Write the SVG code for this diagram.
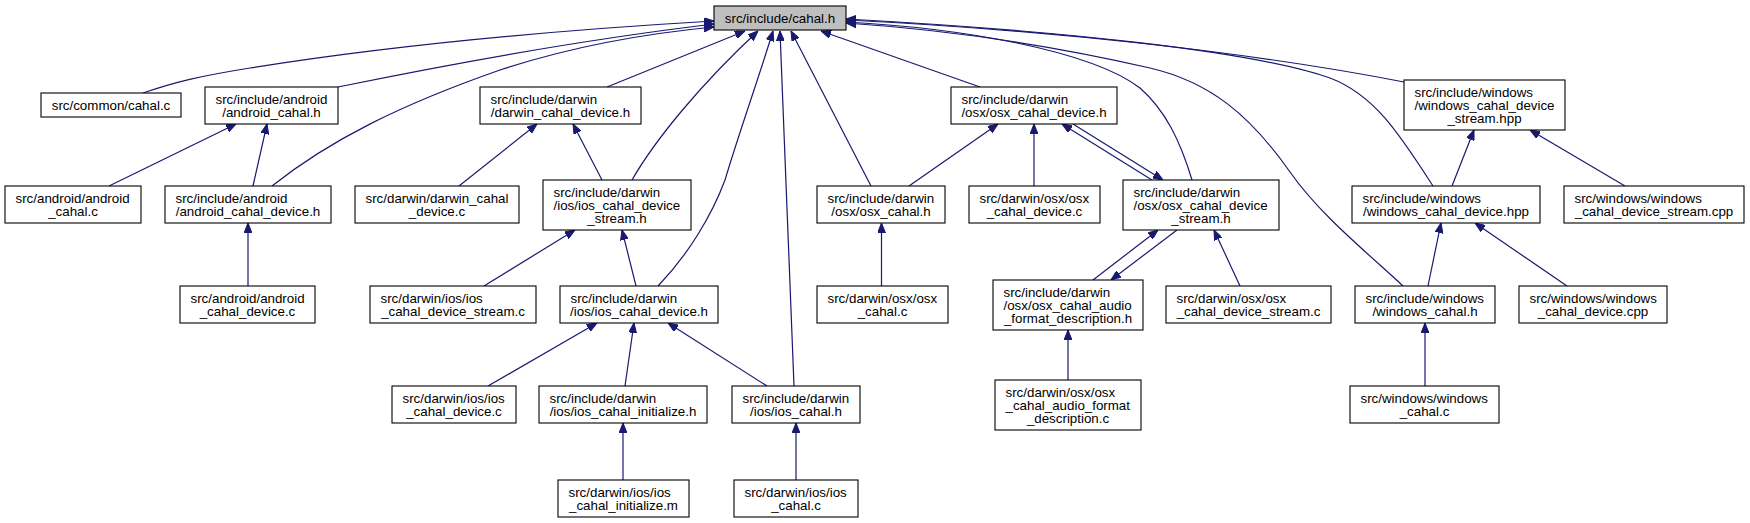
<svg xmlns="http://www.w3.org/2000/svg" width="1750" height="523" viewBox="0 0 1750 523">
<style>
.n rect{fill:#ffffff;stroke:#000000;stroke-width:1.1}
.root rect{fill:#bfbfbf}
text{font-family:"Liberation Sans",Arial,Helvetica,sans-serif;font-size:13.33px;fill:#000000}
.c{text-anchor:middle}
.e path{fill:none;stroke:#191970;stroke-width:1.2;marker-end:url(#arr)}
</style>
<defs>
<marker id="arr" viewBox="0 0 10 8" refX="10" refY="4" markerWidth="10" markerHeight="8" markerUnits="userSpaceOnUse" orient="auto">
<path d="M0,0 L10,4 L0,8 z" fill="#191970" stroke="#191970" stroke-width="1"/>
</marker>
</defs>
<rect width="1750" height="523" fill="#ffffff"/>
<g id="edges" class="e">
<path d="M143,93 C175,82 200,76 250,68 C400,44 560,30 714,21"/>
<path d="M338,87 C450,64 580,40 714,24"/>
<path d="M272,186 C330,140 400,105 500,70 C570,47 640,34 714,27"/>
<path d="M607,87 L745,31"/>
<path d="M632,180 C655,140 700,85 758,31"/>
<path d="M658,286 C688,255 712,215 725,180 C740,130 758,80 773,31"/>
<path d="M794,386 L780,31"/>
<path d="M871,186 L791,31"/>
<path d="M980,87 L821,31"/>
<path d="M1192,180 C1180,140 1165,110 1140,88 C1090,50 960,28 846,22"/>
<path d="M1404,82 C1250,52 1050,30 846,20"/>
<path d="M1433,186 C1400,135 1375,95 1330,78 C1250,50 1050,30 846,19"/>
<path d="M1403,286 C1370,255 1320,215 1290,172 C1250,115 1210,82 1150,68 C1050,45 950,30 846,23"/>
<path d="M109,186 L236,124"/>
<path d="M253,186 L267,124"/>
<path d="M248,286 L248,223"/>
<path d="M459,186 L537,124"/>
<path d="M602,180 L573,124"/>
<path d="M484,286 L575,230"/>
<path d="M636,286 L622,230"/>
<path d="M488,386 L597,323"/>
<path d="M625,386 L634,323"/>
<path d="M767,386 L668,323"/>
<path d="M623,480 L623,423"/>
<path d="M796,480 L796,423"/>
<path d="M909,186 L998,124"/>
<path d="M1034,186 L1034,124"/>
<path d="M1152,180 L1062,124"/>
<path d="M1073,124 L1163,180"/>
<path d="M881.5,286 L881.5,223"/>
<path d="M1093,280 L1158,230"/>
<path d="M1177,230 L1111,280"/>
<path d="M1240,286 L1214,230"/>
<path d="M1068,380 L1068,330"/>
<path d="M1452,186 L1474,130"/>
<path d="M1625,186 L1530,130"/>
<path d="M1428,286 L1441,223"/>
<path d="M1567,286 L1475,223"/>
<path d="M1425,386 L1425,323"/>
</g>
<g id="n1" class="n root"><rect x="714" y="6" width="132" height="24"/><text class="c" x="780" y="22.6">src/include/cahal.h</text></g>
<g id="n2" class="n"><rect x="41" y="93" width="140" height="24"/><text class="c" x="111" y="109.6">src/common/cahal.c</text></g>
<g id="n3" class="n"><rect x="205" y="87" width="133" height="37"/><text x="215.5" y="103.6">src/include/android</text><text class="c" x="271.5" y="116.6">/android_cahal.h</text></g>
<g id="n4" class="n"><rect x="480" y="87" width="161" height="37"/><text x="490.5" y="103.6">src/include/darwin</text><text class="c" x="560.5" y="116.6">/darwin_cahal_device.h</text></g>
<g id="n5" class="n"><rect x="951" y="87" width="166" height="37"/><text x="961.5" y="103.6">src/include/darwin</text><text class="c" x="1034" y="116.6">/osx/osx_cahal_device.h</text></g>
<g id="n6" class="n"><rect x="1404" y="80" width="161" height="50"/><text x="1414.5" y="96.6">src/include/windows</text><text x="1414.5" y="109.6">/windows_cahal_device</text><text class="c" x="1484.5" y="122.6">_stream.hpp</text></g>
<g id="n7" class="n"><rect x="5" y="186" width="136" height="37"/><text x="15.5" y="202.6">src/android/android</text><text class="c" x="73" y="215.6">_cahal.c</text></g>
<g id="n8" class="n"><rect x="165" y="186" width="166" height="37"/><text x="175.5" y="202.6">src/include/android</text><text class="c" x="248" y="215.6">/android_cahal_device.h</text></g>
<g id="n9" class="n"><rect x="355" y="186" width="164" height="37"/><text x="365.5" y="202.6">src/darwin/darwin_cahal</text><text class="c" x="437" y="215.6">_device.c</text></g>
<g id="n10" class="n"><rect x="543" y="180" width="148" height="50"/><text x="553.5" y="196.6">src/include/darwin</text><text x="553.5" y="209.6">/ios/ios_cahal_device</text><text class="c" x="617" y="222.6">_stream.h</text></g>
<g id="n11" class="n"><rect x="817" y="186" width="128" height="37"/><text x="827.5" y="202.6">src/include/darwin</text><text class="c" x="881" y="215.6">/osx/osx_cahal.h</text></g>
<g id="n12" class="n"><rect x="969" y="186" width="131" height="37"/><text x="979.5" y="202.6">src/darwin/osx/osx</text><text class="c" x="1034.5" y="215.6">_cahal_device.c</text></g>
<g id="n13" class="n"><rect x="1123" y="180" width="156" height="50"/><text x="1133.5" y="196.6">src/include/darwin</text><text x="1133.5" y="209.6">/osx/osx_cahal_device</text><text class="c" x="1201" y="222.6">_stream.h</text></g>
<g id="n14" class="n"><rect x="1352" y="186" width="188" height="37"/><text x="1362.5" y="202.6">src/include/windows</text><text class="c" x="1446" y="215.6">/windows_cahal_device.hpp</text></g>
<g id="n15" class="n"><rect x="1564" y="186" width="180" height="37"/><text x="1574.5" y="202.6">src/windows/windows</text><text class="c" x="1654" y="215.6">_cahal_device_stream.cpp</text></g>
<g id="n16" class="n"><rect x="180" y="286" width="135" height="37"/><text x="190.5" y="302.6">src/android/android</text><text class="c" x="247.5" y="315.6">_cahal_device.c</text></g>
<g id="n17" class="n"><rect x="370" y="286" width="166" height="37"/><text x="380.5" y="302.6">src/darwin/ios/ios</text><text class="c" x="453" y="315.6">_cahal_device_stream.c</text></g>
<g id="n18" class="n"><rect x="560" y="286" width="158" height="37"/><text x="570.5" y="302.6">src/include/darwin</text><text class="c" x="639" y="315.6">/ios/ios_cahal_device.h</text></g>
<g id="n19" class="n"><rect x="817" y="286" width="131" height="37"/><text x="827.5" y="302.6">src/darwin/osx/osx</text><text class="c" x="882.5" y="315.6">_cahal.c</text></g>
<g id="n20" class="n"><rect x="993" y="280" width="150" height="50"/><text x="1003.5" y="296.6">src/include/darwin</text><text x="1003.5" y="309.6">/osx/osx_cahal_audio</text><text class="c" x="1068" y="322.6">_format_description.h</text></g>
<g id="n21" class="n"><rect x="1166" y="286" width="165" height="37"/><text x="1176.5" y="302.6">src/darwin/osx/osx</text><text class="c" x="1248.5" y="315.6">_cahal_device_stream.c</text></g>
<g id="n22" class="n"><rect x="1355" y="286" width="140" height="37"/><text x="1365.5" y="302.6">src/include/windows</text><text class="c" x="1425" y="315.6">/windows_cahal.h</text></g>
<g id="n23" class="n"><rect x="1519" y="286" width="148" height="37"/><text x="1529.5" y="302.6">src/windows/windows</text><text class="c" x="1593" y="315.6">_cahal_device.cpp</text></g>
<g id="n24" class="n"><rect x="392" y="386" width="124" height="37"/><text x="402.5" y="402.6">src/darwin/ios/ios</text><text class="c" x="454" y="415.6">_cahal_device.c</text></g>
<g id="n25" class="n"><rect x="539" y="386" width="168" height="37"/><text x="549.5" y="402.6">src/include/darwin</text><text class="c" x="623" y="415.6">/ios/ios_cahal_initialize.h</text></g>
<g id="n26" class="n"><rect x="732" y="386" width="128" height="37"/><text x="742.5" y="402.6">src/include/darwin</text><text class="c" x="796" y="415.6">/ios/ios_cahal.h</text></g>
<g id="n27" class="n"><rect x="995" y="380" width="146" height="50"/><text x="1005.5" y="396.6">src/darwin/osx/osx</text><text x="1005.5" y="409.6">_cahal_audio_format</text><text class="c" x="1068" y="422.6">_description.c</text></g>
<g id="n28" class="n"><rect x="1350" y="386" width="149" height="37"/><text x="1360.5" y="402.6">src/windows/windows</text><text class="c" x="1424.5" y="415.6">_cahal.c</text></g>
<g id="n29" class="n"><rect x="558" y="480" width="131" height="37"/><text x="568.5" y="496.6">src/darwin/ios/ios</text><text class="c" x="623.5" y="509.6">_cahal_initialize.m</text></g>
<g id="n30" class="n"><rect x="734" y="480" width="124" height="37"/><text x="744.5" y="496.6">src/darwin/ios/ios</text><text class="c" x="796" y="509.6">_cahal.c</text></g>
</svg>
